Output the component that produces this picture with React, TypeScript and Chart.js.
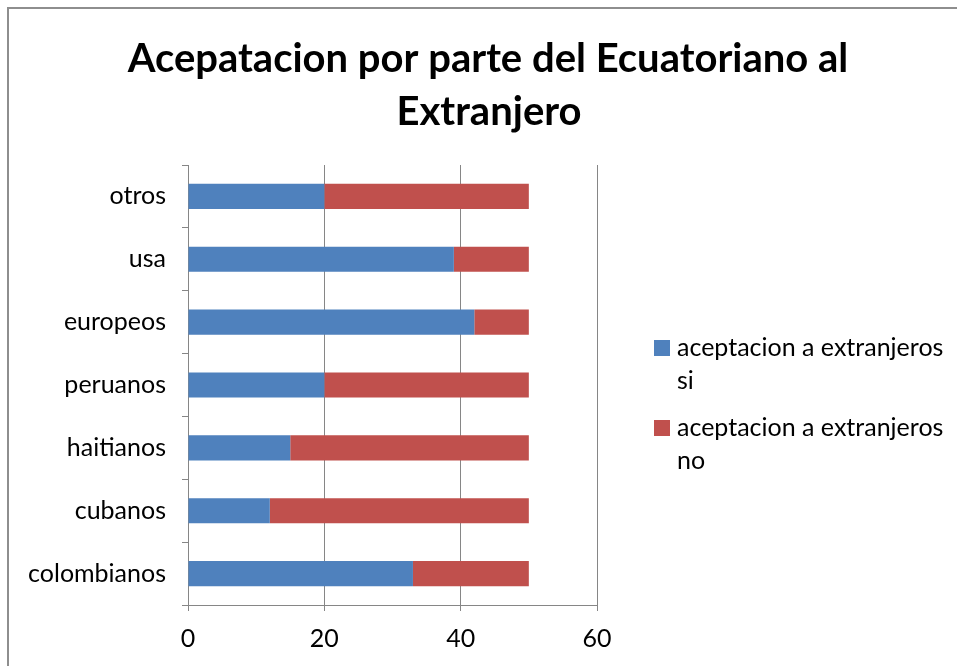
import React, { useEffect, useRef } from "react";
import { Chart, registerables } from "chart.js";

Chart.register(...registerables);

const categories = ["colombianos", "cubanos", "haitianos", "peruanos", "europeos", "usa", "otros"];
const siValues = [33, 12, 15, 20, 42, 39, 20];
const noValues = [17, 38, 35, 30, 8, 11, 30];
const seriesNames = ["aceptacion a extranjeros si", "aceptacion a extranjeros no"];
const legendLines = [["aceptacion a extranjeros", "si"], ["aceptacion a extranjeros", "no"]];
const titleLines = ["Acepatacion por parte del Ecuatoriano al", "Extranjero"];
const xTicks = [0, 20, 40, 60];

const FONT = "Lato, 'Open Sans', sans-serif";
const BLUE = "#4F81BD";
const RED = "#C0504D";
const GRID = "#868686";

const overlayPlugin = {
  id: "overlay",
  afterDraw(chart: any) {
    const ctx = chart.ctx;
    ctx.save();
    ctx.fillStyle = "#000";
    ctx.textAlign = "center";
    ctx.textBaseline = "alphabetic";
    ctx.font = `bold 40px ${FONT}`;
    ctx.fillText(titleLines[0], 488, 72);
    ctx.fillText(titleLines[1], 489, 125);

    const colors = [BLUE, RED];
    const tops = [340, 420];
    ctx.textAlign = "left";
    ctx.textBaseline = "middle";
    ctx.font = `25px ${FONT}`;
    for (let i = 0; i < 2; i++) {
      ctx.fillStyle = colors[i];
      ctx.fillRect(654, tops[i], 16, 16);
      ctx.fillStyle = "#000";
      ctx.fillText(legendLines[i][0], 677, tops[i] + 8);
      ctx.fillText(legendLines[i][1], 677, tops[i] + 41);
    }
    ctx.restore();
  },
};

export default function App() {
  const ref = useRef<HTMLCanvasElement>(null);
  useEffect(() => {
    if (!ref.current) return;
    const chart = new Chart(ref.current, {
      type: "bar",
      data: {
        labels: categories,
        datasets: [
          { label: seriesNames[0], data: siValues, backgroundColor: BLUE, borderWidth: 0, barPercentage: 0.4, categoryPercentage: 1 },
          { label: seriesNames[1], data: noValues, backgroundColor: RED, borderWidth: 0, barPercentage: 0.4, categoryPercentage: 1 },
        ],
      },
      options: {
        indexAxis: "y",
        animation: false,
        responsive: false,
        devicePixelRatio: 1,
        layout: { padding: { top: 165, right: 360, bottom: 0, left: 0 } },
        plugins: { legend: { display: false }, title: { display: false }, tooltip: { enabled: false } },
        scales: {
          x: {
            stacked: true,
            min: 0,
            max: 60,
            afterBuildTicks: (scale: any) => {
              scale.ticks = xTicks.map((v) => ({ value: v }));
            },
            afterFit: (scale: any) => {
              scale.height = 61;
            },
            ticks: { color: "#000", font: { family: FONT, size: 25 }, padding: 13, maxRotation: 0 },
            grid: { color: GRID, tickLength: 6, lineWidth: 1 },
            border: { color: GRID, width: 1 },
          },
          y: {
            stacked: true,
            reverse: true,
            afterFit: (scale: any) => {
              scale.width = 188;
            },
            ticks: { color: "#000", font: { family: FONT, size: 25 }, padding: 16 },
            grid: { color: GRID, tickLength: 6, drawOnChartArea: false, offset: true, lineWidth: 1 },
            border: { color: GRID, width: 1 },
          },
        },
      },
      plugins: [overlayPlugin],
    } as any);
    return () => chart.destroy();
  }, []);

  return (
    <div style={{ position: "fixed", left: 0, top: 0, width: 957, height: 666, background: "#fff", overflow: "hidden" }}>
      <div style={{ position: "absolute", left: 7, top: 7, width: 1000, height: 1000, border: "2px solid #8e8e8e" }} />
      <canvas ref={ref} width={957} height={666} style={{ position: "absolute", left: 0, top: 0, width: 957, height: 666 }} />
    </div>
  );
}
